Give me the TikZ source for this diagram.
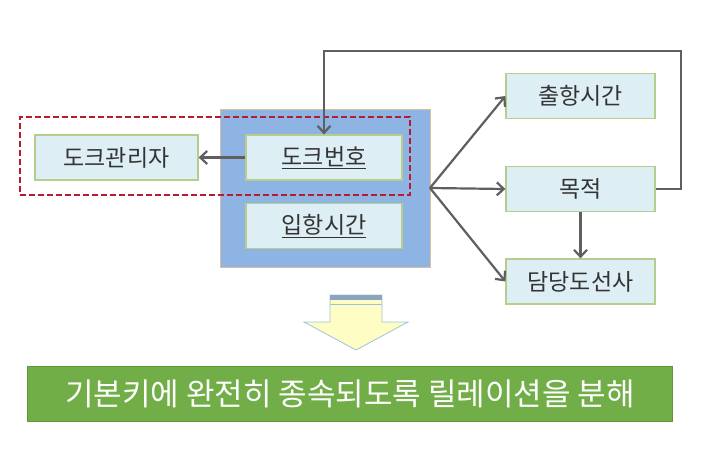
\documentclass[tikz,border=0pt]{standalone}
\usepackage{fontspec}
\setmainfont{Noto Sans CJK KR}
\usetikzlibrary{arrows.meta}
\definecolor{boxfill}{HTML}{DEEEF5}
\definecolor{boxline}{HTML}{B7CD8C}
\definecolor{bigblue}{HTML}{8DB4E2}
\definecolor{bigline}{HTML}{D8BFA0}
\definecolor{dashred}{HTML}{B81C2C}
\definecolor{arrgray}{HTML}{5F5F5F}
\definecolor{greenbar}{HTML}{72AE48}
\definecolor{yel}{HTML}{FDFDC4}
\definecolor{yelline}{HTML}{9CC3DA}
\definecolor{stripe}{HTML}{8AA6BE}
\tikzset{
  ent/.style={draw=boxline, line width=1.2pt, fill=boxfill, minimum height=45pt, inner sep=0pt, font=\fontsize{23}{26}\selectfont, text=black!80},
  conn/.style={draw=arrgray, line width=2.2pt, -{Straight Barb[length=7pt,width=13pt,line width=2.2pt]}},
}
\begin{document}
\begin{tikzpicture}[x=1pt,y=-1pt]
\useasboundingbox (0,0) rectangle (725,454);
% big blue rect
\node[draw=bigline, line width=1pt, fill=bigblue, minimum width=210pt, minimum height=158pt, inner sep=0pt] (grp) at (325,189) {};
% boxes
\node[ent, minimum width=156pt] (dno) at (324,157.5) {\underline{도크번호}};
\node[ent, minimum width=156pt] (ipt) at (324,226) {\underline{입항시간}};
\node[ent, minimum width=163pt] (dmg) at (116.5,157.5) {도크관리자};
\node[ent, minimum width=149pt] (cht) at (580.5,96) {출항시간};
\node[ent, minimum width=149pt] (mok) at (580.5,189) {목적};
\node[ent, minimum width=149pt] (ddo) at (580.5,281.5) {담당도선사};
% dashed red rect
\node[draw=dashred, line width=2pt, dash pattern=on 6pt off 3pt, minimum width=390pt, minimum height=78pt, inner sep=0pt] (dash) at (215,156) {};
% connectors
\coordinate (src) at (430,188);
\draw[conn] (dno.west) -- (dmg.east);
\draw[conn] (src) -- (cht.west);
\draw[conn] (src) -- (mok.west);
\draw[conn] (src) -- (ddo.west);
\draw[conn] (mok.south) -- (ddo.north);
\coordinate (c1) at (681,189);
\coordinate (c2) at (681,51);
\coordinate (c3) at (324,51);
\draw[conn] (mok.east) -- (c1) -- (c2) -- (c3) -- (dno.north);
% block arrow
\coordinate (ba1) at (330,295);
\coordinate (ba2) at (382,295);
\coordinate (ba3) at (382,322);
\coordinate (ba4) at (408,322);
\coordinate (ba5) at (356,350);
\coordinate (ba6) at (304,322);
\coordinate (ba7) at (330,322);
\draw[draw=yelline, line width=0.8pt, fill=yel] (ba1) -- (ba2) -- (ba3) -- (ba4) -- (ba5) -- (ba6) -- (ba7) -- cycle;
\fill[stripe] (330,295) rectangle (382,300);
\draw[yelline, line width=1pt] (330,304) -- (382,304);
% green bar
\node[draw=greenbar!85!black, line width=0.5pt, fill=greenbar, minimum width=645pt, minimum height=55pt, inner sep=0pt, text=white, font=\fontsize{31}{34}\selectfont] (bar) at (350,393.5) {기본키에 완전히 종속되도록 릴레이션을 분해};
\end{tikzpicture}
\end{document}
